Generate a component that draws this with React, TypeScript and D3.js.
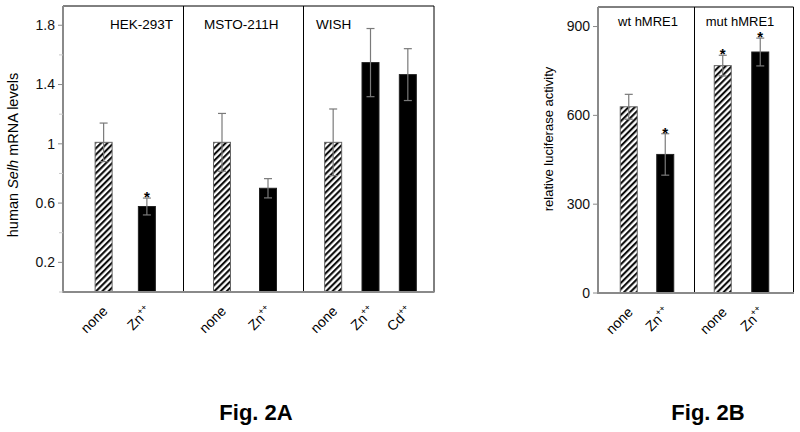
import React from "react";
import * as d3 from "d3";

// ---------- Data ----------
const aGroups = ["HEK-293T", "MSTO-211H", "WISH"];
const aConditions = ["none", "Zn", "none", "Zn", "none", "Zn", "Cd"];
const aGroupOf = [0, 0, 1, 1, 2, 2, 2];
const aValues = [1.01, 0.577, 1.01, 0.7, 1.01, 1.548, 1.467];
const aErrors = [0.13, 0.057, 0.195, 0.065, 0.225, 0.23, 0.175];
const aSignificant = [false, true, false, false, false, false, false];
const aTickValues = [0.2, 0.6, 1, 1.4, 1.8];
const aMinorTicks = [0, 0.4, 0.8, 1.2, 1.6];

const bGroups = ["wt hMRE1", "mut hMRE1"];
const bConditions = ["none", "Zn", "none", "Zn"];
const bGroupOf = [0, 0, 1, 1];
const bValues = [629, 468, 768, 814];
const bErrors = [42, 70, 35, 47];
const bSignificant = [false, true, true, true];
const bTickValues = [0, 300, 600, 900];

// ---------- Layout ----------
const FONT = "'Liberation Sans', Arial, Helvetica, sans-serif";
const AXIS_GRAY = "#8a8a8a";
const ERR_GRAY = "#7a7a7a";
const BAR_W = 17;

type Panel = {
  groups: string[];
  conditions: string[];
  groupOf: number[];
  values: number[];
  errors: number[];
  significant: boolean[];
  ticks: number[];
  minor: number[];
  yMax: number;
  left: number;
  right: number;
  top: number;
  bottom: number;
  dividers: number[];
  innerPads: [number, number][];
  groupLabelAlign: ("start" | "middle" | "end")[];
  groupLabelX: number[];
  groupLabelY: number;
  tickFmt: (v: number) => string;
  yLabelX: number;
  yLabelY: number;
  yLabelSize: number;
  yLabel: React.ReactNode;
  fig: string;
  figX: number;
  groupLabelSize: number;
};

function PanelView({ p }: { p: Panel }) {
  const y = d3.scaleLinear().domain([0, p.yMax]).range([p.bottom, p.top]);
  const edges = [p.left, ...p.dividers, p.right];
  const scales = p.groups.map((g, gi) => {
    const members = p.conditions
      .map((c, i) => i)
      .filter((i) => p.groupOf[i] === gi)
      .map(String);
    return d3
      .scaleBand<string>()
      .domain(members)
      .range([edges[gi] + p.innerPads[gi][0], edges[gi + 1] - p.innerPads[gi][1]]);
  });
  const cx = (i: number) => {
    const s = scales[p.groupOf[i]];
    return (s(String(i)) as number) + s.bandwidth() / 2;
  };
  return (
    <g>
      {/* bars */}
      {p.values.map((v, i) => {
        const hatched = p.conditions[i] === "none";
        return (
          <rect
            key={"bar" + i}
            x={cx(i) - BAR_W / 2}
            y={y(v)}
            width={BAR_W}
            height={y(0) - y(v)}
            fill={hatched ? "url(#hatch)" : "#000"}
            stroke={hatched ? "#666" : "#222"}
            strokeWidth={1}
          />
        );
      })}
      {/* error bars */}
      {p.values.map((v, i) => {
        const x = cx(i);
        const hi = y(v + p.errors[i]);
        const lo = y(v - p.errors[i]);
        return (
          <g key={"err" + i} stroke={ERR_GRAY} strokeWidth={1.2}>
            <line x1={x} x2={x} y1={hi} y2={lo} />
            <line x1={x - 4} x2={x + 4} y1={hi} y2={hi} />
            <line x1={x - 4} x2={x + 4} y1={lo} y2={lo} />
          </g>
        );
      })}
      {/* stars */}
      {p.values.map((v, i) =>
        p.significant[i] ? (
          <text
            key={"star" + i}
            x={cx(i)}
            y={y(v + p.errors[i]) + 4}
            textAnchor="middle"
            fontFamily={FONT}
            fontSize={15}
            fontWeight="bold"
            fill="#000"
          >
            *
          </text>
        ) : null
      )}
      {/* frame */}
      <line x1={p.left} x2={p.right} y1={p.top} y2={p.top} stroke="#000" strokeWidth={1} />
      <line x1={p.right} x2={p.right} y1={p.top} y2={p.bottom} stroke="#000" strokeWidth={1} />
      {p.dividers.map((d, k) => (
        <line key={"div" + k} x1={d} x2={d} y1={p.top} y2={p.bottom} stroke="#000" strokeWidth={1} />
      ))}
      <line x1={p.left} x2={p.right + 0.5} y1={p.bottom} y2={p.bottom} stroke={AXIS_GRAY} strokeWidth={2} />
      <line x1={p.left} x2={p.left} y1={p.top} y2={p.bottom + 1} stroke={AXIS_GRAY} strokeWidth={2} />
      {/* ticks */}
      {p.minor.map((t) => (
        <line key={"mt" + t} x1={p.left - 4} x2={p.left} y1={y(t)} y2={y(t)} stroke="#c8c8c8" strokeWidth={1} />
      ))}
      {p.ticks.map((t) => (
        <g key={"t" + t}>
          <line x1={p.left - 5} x2={p.left} y1={y(t)} y2={y(t)} stroke={AXIS_GRAY} strokeWidth={1} />
          <text
            x={p.left - 8}
            y={y(t)}
            dy="0.35em"
            textAnchor="end"
            fontFamily={FONT}
            fontSize={14}
            fill="#111"
          >
            {p.tickFmt(t)}
          </text>
        </g>
      ))}
      {/* group labels */}
      {p.groups.map((g, gi) => (
        <text
          key={"gl" + gi}
          x={p.groupLabelX[gi]}
          y={p.groupLabelY}
          textAnchor={p.groupLabelAlign[gi]}
          fontFamily={FONT}
          fontSize={p.groupLabelSize}
          fill="#000"
        >
          {g}
        </text>
      ))}
      {/* x labels */}
      {p.conditions.map((c, i) => {
        const ax = cx(i) + 5;
        const ay = p.bottom + 20;
        return (
          <text
            key={"xl" + i}
            transform={`translate(${ax},${ay}) rotate(-45)`}
            textAnchor="end"
            fontFamily={FONT}
            fontSize={14}
            fill="#000"
          >
            {c === "none" ? (
              "none"
            ) : (
              <>
                {c}
                <tspan fontSize={9} dy={-6}>
                  ++
                </tspan>
              </>
            )}
          </text>
        );
      })}
      {/* y label */}
      <text
        transform={`translate(${p.yLabelX},${p.yLabelY}) rotate(-90)`}
        textAnchor="middle"
        dy="0.35em"
        fontFamily={FONT}
        fontSize={p.yLabelSize}
        fill="#000"
      >
        {p.yLabel}
      </text>
      {/* figure caption */}
      <text
        x={p.figX}
        y={420}
        textAnchor="middle"
        fontFamily={FONT}
        fontSize={22}
        fontWeight="bold"
        fill="#000"
      >
        {p.fig}
      </text>
    </g>
  );
}

export default function App() {
  const panelA: Panel = {
    groups: aGroups,
    conditions: aConditions,
    groupOf: aGroupOf,
    values: aValues,
    errors: aErrors,
    significant: aSignificant,
    ticks: aTickValues,
    minor: aMinorTicks,
    yMax: 1.93,
    left: 63,
    right: 434,
    top: 6,
    bottom: 292,
    dividers: [183.5, 303.5],
    innerPads: [
      [19, 15],
      [15.5, 12.5],
      [11, 7.5],
    ],
    groupLabelAlign: ["end", "start", "start"],
    groupLabelX: [173, 204, 316],
    groupLabelY: 29,
    groupLabelSize: 13.5,
    tickFmt: (v) => d3.format("~g")(v),
    yLabelX: 13,
    yLabelY: 155,
    yLabelSize: 14.5,
    yLabel: (
      <>
        human <tspan fontStyle="italic">Selh</tspan> mRNA levels
      </>
    ),
    fig: "Fig. 2A",
    figX: 256,
  };
  const panelB: Panel = {
    groups: bGroups,
    conditions: bConditions,
    groupOf: bGroupOf,
    values: bValues,
    errors: bErrors,
    significant: bSignificant,
    ticks: bTickValues,
    minor: [],
    yMax: 966,
    left: 598,
    right: 793.5,
    top: 7,
    bottom: 293,
    dividers: [694.5],
    innerPads: [
      [12.5, 11],
      [9.5, 14.5],
    ],
    groupLabelAlign: ["middle", "middle"],
    groupLabelX: [648, 740],
    groupLabelY: 26,
    groupLabelSize: 13,
    tickFmt: (v) => String(v),
    yLabelX: 548,
    yLabelY: 139,
    yLabelSize: 13,
    yLabel: "relative luciferase activity",
    fig: "Fig. 2B",
    figX: 708,
  };
  return (
    <svg
      width={800}
      height={432}
      style={{ position: "absolute", left: 0, top: 0, background: "#fff" }}
    >
      <defs>
        <pattern
          id="hatch"
          patternUnits="userSpaceOnUse"
          width={4.4}
          height={4.4}
          patternTransform="rotate(45)"
        >
          <rect width={4.4} height={4.4} fill="#fff" />
          <line x1={1.1} x2={1.1} y1={0} y2={4.4} stroke="#000" strokeWidth={2} />
        </pattern>
      </defs>
      <rect width={800} height={432} fill="#fff" />
      <PanelView p={panelA} />
      <PanelView p={panelB} />
    </svg>
  );
}
